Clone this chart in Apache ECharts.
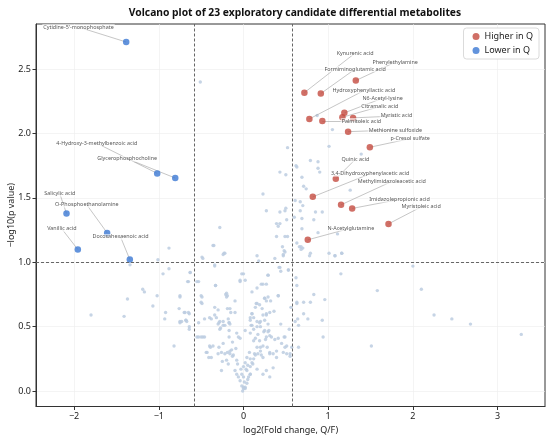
<!DOCTYPE html>
<html>
<head>
<meta charset="utf-8">
<title>Volcano plot</title>
<script src="https://cdn.jsdelivr.net/npm/echarts@6.0.0/dist/echarts.min.js"></script>
<style>
  html, body { margin: 0; padding: 0; background: #fff; }
  #main { width: 550px; height: 440px; }
</style>
</head>
<body>
<div id="main"></div>
<script>
// ---- data ----
var higherNames = ['Kynurenic acid', 'Formiminoglutamic acid', 'Phenylethylamine', 'Hydroxyphenyllactic acid',
  'Palmitoleic acid', 'N6-Acetyl-lysine', 'Citramalic acid', 'Myristic acid', 'Methionine sulfoxide',
  'p-Cresol sulfate', 'Quinic acid', '3,4-Dihydroxyphenylacetic acid', 'Methylimidazoleacetic acid',
  'Imidazolepropionic acid', 'Myristoleic acid', 'N-Acetylglutamine'];
var higherX = [0.719, 0.913, 1.326, 0.778, 0.931, 1.191, 1.168, 1.294, 1.235, 1.492, 1.090, 0.818, 1.152, 1.283, 1.712, 0.759];
var higherY = [2.317, 2.310, 2.411, 2.113, 2.097, 2.160, 2.126, 2.121, 2.014, 1.893, 1.648, 1.508, 1.446, 1.418, 1.298, 1.174];

var lowerNames = ['Cytidine-5\'-monophosphate', '4-Hydroxy-3-methylbenzoic acid', 'Glycerophosphocholine',
  'Salicylic acid', 'O-Phosphoethanolamine', 'Vanillic acid', 'Docosahexaenoic acid'];
var lowerX = [-1.385, -1.019, -0.806, -2.090, -1.610, -1.956, -1.342];
var lowerY = [2.710, 1.690, 1.654, 1.379, 1.228, 1.099, 1.021];

// all other metabolites (log2 FC, -log10 p)
var otherPoints = [
  [-1.80,0.59],[-1.41,0.58],[-1.37,0.715],[-1.34,0.98],[-1.19,0.79],[-1.17,0.77],[-1.07,0.66],[-1.02,0.74],
  [-1.01,1.02],[-0.95,0.91],[-0.92,0.61],[-0.93,0.56],[-0.88,1.11],[-0.88,0.95],[-0.82,0.35],[-0.76,0.64],
  [-0.75,0.73],[-0.75,0.53],[-0.70,0.61],[-0.68,0.55],[-0.64,0.48],[-0.64,0.60],[-0.66,0.85],[-0.63,0.92],
  [-0.55,0.85],[-0.53,0.53],[-0.53,0.42],[-0.50,0.42],[-0.46,0.42],[-0.50,0.69],[-0.49,1.04],[-0.50,0.74],
  [-0.44,0.30],[-0.41,0.26],[-0.38,0.56],[-0.39,0.34],[-0.36,1.13],[-0.34,0.97],[-0.33,0.82],[-0.32,0.57],
  [-0.30,0.29],[-0.29,0.53],[-0.27,0.49],[-0.25,0.23],[-0.24,1.06],[-0.23,1.07],[-0.21,0.75],[-0.20,0.73],
  [-0.19,0.64],[-0.17,0.53],[-0.17,0.47],[-0.17,0.42],[-0.16,0.31],[-0.15,0.61],[-0.13,0.38],[-0.13,0.27],
  [-0.10,0.70],[-0.09,0.33],[-0.08,0.24],[-0.07,0.21],[-0.06,0.42],[-0.04,0.86],[-0.03,0.17],[-0.02,0.91],
  [-0.02,0.13],[0.00,0.11],[0.00,0.03],[0.01,0.07],[0.02,0.02],[0.03,0.17],[0.04,0.26],[0.05,0.09],
  [0.07,0.30],[0.08,0.25],[0.08,0.13],[0.09,0.51],[0.10,0.60],[0.10,0.77],[0.11,0.21],[0.12,0.39],
  [0.13,0.29],[0.15,0.68],[0.16,0.17],[0.17,0.44],[0.18,1.01],[0.19,0.53],[0.20,0.34],[0.21,0.83],
  [0.22,0.64],[0.23,0.26],[0.24,0.46],[0.25,0.72],[0.26,0.40],[0.27,0.59],[0.28,0.34],[0.29,0.90],
  [0.30,0.47],[0.31,0.29],[0.32,0.70],[0.33,0.42],[0.35,0.18],[0.36,0.62],[0.37,0.40],[0.39,0.31],
  [0.41,0.74],[0.42,0.96],[0.44,0.93],[0.44,0.52],[0.46,1.12],[0.47,1.06],[0.48,0.42],[0.49,0.34],
  [0.51,0.29],[0.53,0.94],[0.54,0.48],[0.55,0.27],[0.56,0.65],
  [0.62,0.88],[0.63,0.82],[0.63,0.68],[0.64,0.56],[0.65,0.34],[0.66,1.12],[0.68,1.10],[0.71,0.69],
  [0.71,0.60],[0.76,0.56],[0.78,1.05],[0.79,0.69],[0.83,0.75],[0.93,0.55],[0.94,0.42],[0.96,0.71],
  [1.08,1.05],[1.15,0.91],[1.16,1.07],[1.51,0.35],[1.58,0.78],[2.00,0.97],[2.10,0.79],[2.25,0.59],
  [2.46,0.56],[2.68,0.52],[3.28,0.44],
  [-0.51,2.40],[0.52,1.89],[0.43,1.70],[0.23,1.53],[0.27,1.40],[0.43,1.39],[0.50,1.42],[0.39,1.30],
  [0.41,1.28],[0.43,1.30],[-0.28,1.27],[-0.35,1.13],[-0.22,1.07],[0.39,1.20],[0.49,1.20],[0.52,1.20],
  [0.48,1.09],[0.16,1.05],[-0.48,1.03],
  [0.63,1.74],[0.79,1.79],[0.88,1.78],[0.88,1.73],[0.90,1.70],[0.69,1.66],[1.01,1.90],[0.87,2.14],
  [1.05,2.03],[0.71,1.59],[0.74,1.57],[0.61,1.48],[0.67,1.47],[0.70,1.44],[0.67,1.40],[0.85,1.39],
  [0.93,1.39],[0.60,1.35],[0.69,1.34],[0.69,1.26],[0.83,1.33],[0.88,1.23],[0.63,1.15],[0.68,1.12],
  [0.70,1.11],[0.79,1.07],[1.08,1.05],[1.39,1.84],[0.62,1.75],[0.50,1.68],[1.26,1.56],[0.49,1.40],
  [0.51,1.33],[1.11,1.22],[1.16,1.07],[1.01,1.07],
  [0.37,1.03],[0.49,1.08],[0.47,1.05],[-0.34,0.98],[0.00,0.91],[0.29,0.90],[0.43,0.96],[0.53,0.94],
  [-0.63,0.92],[-0.65,0.85],[-0.53,0.85],[-0.04,0.85],[0.02,0.86],[-0.33,0.82],[0.16,0.80],[0.23,0.83],
  [0.27,0.83],[-0.75,0.74],[-0.20,0.76],[-0.19,0.74],[-0.49,0.73],[0.25,0.72],[0.27,0.70],[0.29,0.73],
  [0.41,0.74],[-0.49,0.68],[-0.34,0.65],[-0.30,0.63],[-0.16,0.64],[-0.10,0.61],[0.16,0.68],[0.19,0.67],
  [0.14,0.65],[0.27,0.60],[0.31,0.61],[0.23,0.59],[0.10,0.60],[0.12,0.57],[0.08,0.57],[0.63,0.69],
  [-0.46,0.56],[-0.40,0.57],[-0.34,0.59],[-0.69,0.61],[-0.65,0.61],[-0.75,0.54],[-0.68,0.55],[-0.28,0.54],
  [-0.24,0.51],[-0.18,0.56],[-0.16,0.52],[0.20,0.54],[0.25,0.55],[0.29,0.52],[0.16,0.50],[0.08,0.55],
  [0.10,0.51],[0.61,0.54],[0.65,0.51],
  [-0.73,0.54],[-0.67,0.54],[-0.64,0.50],[-0.55,0.42],[-0.48,0.42],[-0.43,0.30],[-0.40,0.35],[-0.36,0.35],
  [-0.38,0.26],[-0.30,0.52],[-0.28,0.48],[-0.24,0.54],[-0.22,0.51],[-0.17,0.53],[-0.29,0.34],[-0.26,0.30],
  [-0.24,0.37],[-0.22,0.29],[-0.19,0.30],[-0.16,0.29],[-0.12,0.28],[-0.14,0.32],[-0.26,0.16],[-0.20,0.24],
  [-0.18,0.21],[-0.10,0.16],[-0.08,0.13],[-0.06,0.11],[-0.04,0.08],[-0.02,0.04],[0.00,0.02],[0.02,0.03],
  [0.04,0.06],[-0.01,0.00],[0.06,0.11],[0.08,0.13],[0.04,0.16],[0.08,0.19],[0.10,0.22],[0.12,0.25],
  [0.14,0.28],[0.02,0.22],[0.05,0.20],[0.00,0.19],[0.16,0.34],[0.17,0.29],[0.20,0.31],[0.21,0.28],
  [0.19,0.39],[0.23,0.35],[0.25,0.47],[0.29,0.46],[0.31,0.43],[0.27,0.42],[0.31,0.30],[0.35,0.29],
  [0.39,0.26],[0.41,0.41],[0.45,0.37],[0.49,0.42],[0.47,0.30],[0.51,0.35],[0.55,0.29],[0.57,0.34],
  [0.23,0.13],[0.31,0.11],[0.27,0.16],[-0.08,0.45],[-0.04,0.41],[0.02,0.47],[0.08,0.45],[0.12,0.48],
  [0.14,0.41],[0.20,0.50],[0.16,0.54]
];

var xTicks = [-2, -1, 0, 1, 2, 3];
var yTicks = [0, 0.5, 1, 1.5, 2, 2.5];

// thresholds: |log2 FC| > log2(1.5), p < 0.1
var fcCut = Math.log2(1.5);
var pCut = 1;

// where the name tags sit (data units), same order as the names
var higherLabelAt = [[1.318,2.624],[1.318,2.500],[1.791,2.554],[1.421,2.333],[1.392,2.097],[1.643,2.274],
  [1.610,2.209],[1.806,2.136],[1.794,2.027],[1.968,1.960],[1.321,1.799],[1.495,1.687],[1.752,1.628],
  [1.842,1.488],[2.098,1.430],[1.267,1.265]];
var lowerLabelAt = [[-1.948,2.826],[-1.732,1.924],[-1.374,1.804],[-2.169,1.532],[-1.850,1.446],
  [-2.145,1.259],[-1.452,1.197]];

var red = '#C44B40';
var blue = '#3B78D3';

function zip(xs, ys) {
  return xs.map(function (x, i) { return [x, ys[i]]; });
}

var leaders = [];
var tags = [];
higherNames.forEach(function (n, i) {
  leaders.push({ coords: [[higherX[i], higherY[i]], higherLabelAt[i]] });
  tags.push({ name: n, value: higherLabelAt[i] });
});
lowerNames.forEach(function (n, i) {
  leaders.push({ coords: [[lowerX[i], lowerY[i]], lowerLabelAt[i]] });
  tags.push({ name: n, value: lowerLabelAt[i] });
});

var font = 'Noto Sans';

var chart = echarts.init(document.getElementById('main'));
chart.setOption({
  animation: false,
  textStyle: { fontFamily: font },
  title: {
    text: 'Volcano plot of 23 exploratory candidate differential metabolites',
    left: 290,
    top: 3,
    textAlign: 'center',
    textStyle: { fontSize: 10.3, fontWeight: 'bold', color: '#111', fontFamily: font }
  },
  legend: {
    data: ['Higher in Q', 'Lower in Q'],
    orient: 'vertical',
    right: 11,
    top: 28,
    icon: 'circle',
    itemWidth: 7,
    itemHeight: 7,
    itemGap: 5,
    padding: [4, 6, 4, 9],
    borderColor: '#d0d0d0',
    borderWidth: 0.8,
    borderRadius: 3,
    backgroundColor: '#fff',
    textStyle: { fontSize: 9, color: '#222' }
  },
  grid: {
    left: 36, right: 5, top: 24, bottom: 33.5,
    outerBoundsMode: 'none',
    containLabel: false,
    show: true, borderColor: '#333', borderWidth: 1, backgroundColor: 'transparent'
  },
  xAxis: {
    type: 'value',
    min: -2.45,
    max: 3.56,
    name: 'log2(Fold change, Q/F)',
    nameLocation: 'middle',
    nameGap: 19,
    nameMoveOverlap: false,
    nameTextStyle: { fontSize: 9, color: '#222' },
    axisLine: { show: true, onZero: false, lineStyle: { color: '#333' } },
    axisTick: { show: true, length: 3.5, lineStyle: { color: '#333' }, customValues: xTicks },
    axisLabel: {
      fontSize: 9, color: '#222', margin: 5, customValues: xTicks,
      formatter: function (v) { return v < 0 ? '\u2212' + Math.abs(v) : String(v); }
    },
    splitLine: { show: true, lineStyle: { color: '#ececec', width: 0.6 } }
  },
  yAxis: {
    type: 'value',
    min: -0.12,
    max: 2.85,
    name: '\u2212log10(p value)',
    nameLocation: 'middle',
    nameGap: 20,
    nameMoveOverlap: false,
    nameTextStyle: { fontSize: 9, color: '#222' },
    axisLine: { show: true, onZero: false, lineStyle: { color: '#333' } },
    axisTick: { show: true, length: 3.5, lineStyle: { color: '#333' }, customValues: yTicks },
    axisLabel: {
      fontSize: 9, color: '#222', margin: 5, customValues: yTicks,
      formatter: function (v) { return v.toFixed(1); }
    },
    splitLine: { show: true, lineStyle: { color: '#ececec', width: 0.6 } }
  },
  series: [
    {
      name: 'Other',
      type: 'scatter',
      data: otherPoints,
      symbolSize: 3.4,
      silent: true,
      z: 1,
      itemStyle: { color: '#BCCCE0', opacity: 0.85 },
      markLine: {
        silent: true,
        symbol: 'none',
        label: { show: false },
        lineStyle: { type: [3, 2], color: '#666', width: 1 },
        data: [{ xAxis: -fcCut }, { xAxis: fcCut }, { yAxis: pCut }]
      }
    },
    {
      name: 'leaders',
      type: 'lines',
      coordinateSystem: 'cartesian2d',
      data: leaders,
      silent: true,
      z: 2,
      lineStyle: { color: '#a0a0a0', width: 0.6, opacity: 1 }
    },
    {
      name: 'Higher in Q',
      type: 'scatter',
      data: zip(higherX, higherY),
      symbolSize: 6.5,
      z: 3,
      itemStyle: { color: red }
    },
    {
      name: 'Lower in Q',
      type: 'scatter',
      data: zip(lowerX, lowerY),
      symbolSize: 6.5,
      z: 3,
      itemStyle: { color: blue }
    },
    {
      name: 'tags',
      type: 'scatter',
      data: tags,
      symbolSize: 0,
      silent: true,
      z: 4,
      label: {
        show: true,
        position: 'inside',
        formatter: '{b}',
        fontSize: 5.4,
        color: '#2a2a2a',
        backgroundColor: 'rgba(255,255,255,0.75)',
        padding: [0.5, 1]
      }
    }
  ]
});
</script>
</body>
</html>
